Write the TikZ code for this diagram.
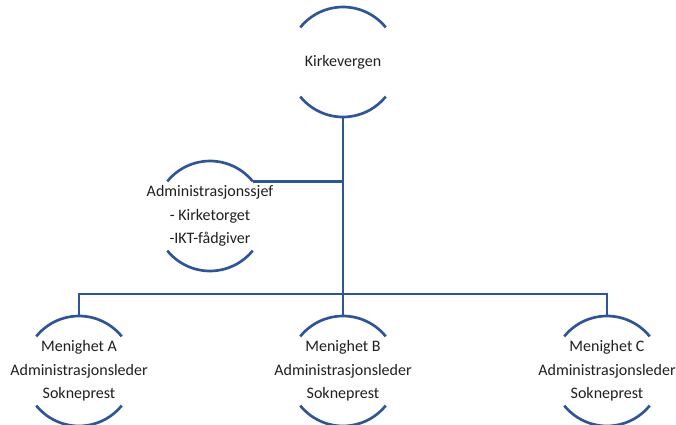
\documentclass[tikz,border=0pt]{standalone}
\usepackage{fontspec}
\setmainfont{Carlito}
\definecolor{orgblue}{RGB}{47,85,151}
\begin{document}
\begin{tikzpicture}[x=0.75pt,y=-0.75pt,
  ring/.style={circle,minimum size=82.5pt,inner sep=0pt,outer sep=0pt},
  label text/.style={align=center,inner sep=0pt,
    font=\fontsize{12}{17.6}\selectfont,text=black!88},
  link/.style={draw=orgblue,line width=2pt},
  halves/.style={draw=orgblue,line width=2pt}]
\useasboundingbox (0,0) rectangle (676,425);
% circles of the chart
\node[ring] (k) at (343,62) {};
\node[ring] (s) at (210,216) {};
\node[ring] (a) at (79,371) {};
\node[ring] (b) at (343,371) {};
\node[ring] (c) at (607,371) {};
% texts inside the circles
\node[label text] (k-t) at (k) {Kirkevergen};
\node[label text] (s-t) at (s) {Administrasjonssjef\\- Kirketorget\\-IKT-fådgiver};
\node[label text] (a-t) at (a) {Menighet A\\Administrasjonsleder\\Sokneprest};
\node[label text] (b-t) at (b) {Menighet B\\Administrasjonsleder\\Sokneprest};
\node[label text] (c-t) at (c) {Menighet C\\Administrasjonsleder\\Sokneprest};
% upper and lower arcs of each circle
\foreach \n in {k,s,a,b,c}{
  \draw[halves] (\n.39) arc[start angle=39,end angle=141,radius=41.25pt];
  \draw[halves] (\n.219) arc[start angle=219,end angle=321,radius=41.25pt];
}
% connectors
\coordinate (bar) at (343,294);
\draw[link] (k.south) -- (b.north);
\draw[link] (s.39) -- (s.39 -| k.south);
\draw[link] (a.north) |- (bar) -| (c.north);
\end{tikzpicture}
\end{document}
